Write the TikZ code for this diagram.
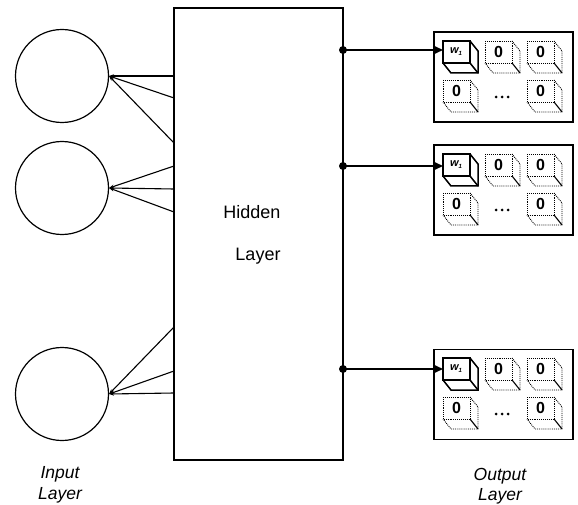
\documentclass[tikz,border=0pt]{standalone}
\usepackage{fontspec}
\setmainfont{Liberation Sans}
\usetikzlibrary{arrows.meta}
\begin{document}
\begin{tikzpicture}[x=1pt,y=-1pt,
  neuron/.style={draw, circle, minimum size=93pt, inner sep=0pt, line width=1.2pt},
  hidbox/.style={draw, line width=1.8pt, minimum width=169pt, minimum height=452pt, inner sep=0pt},
  outbox/.style={draw, line width=1.8pt, minimum width=139pt, minimum height=90pt, inner sep=0pt},
  lab/.style={font=\fontsize{18}{21}\selectfont},
  ilab/.style={font=\fontsize{17.5}{20}\selectfont\itshape},
  conn/.style={line width=1.1pt, -{Stealth[length=5pt,width=3.5pt]}},
  outarrow/.style={line width=1.8pt, -{Triangle[length=9pt,width=8pt]}},
  dotc/.style={circle, fill, inner sep=0pt, minimum size=8pt},
  zlab/.style={font=\fontsize{16}{18}\selectfont\bfseries, inner sep=0pt},
  wcube/.pic={
    \draw[line width=1.5pt] (0,0) rectangle (27,22);
    \draw[line width=1.5pt] (27,0) -- (35,10) -- (35,32) -- (8,32) -- (0,22);
    \draw[line width=1.5pt] (27,22) -- (35,32);
    \node[inner sep=0pt, font=\fontsize{11}{12}\selectfont\bfseries\itshape] at (13,11) {w\raisebox{-2pt}{\fontsize{6}{7}\selectfont 1}};
  },
  zcube/.pic={
    \draw[densely dotted, line width=0.9pt] (0,0) rectangle (27,22);
    \draw[densely dotted, line width=0.9pt] (27,0) -- (35,10) -- (35,32) -- (8,32) -- (0,22);
    \draw[line width=1.1pt] (27,22) -- (35,32);
    \node[zlab] at (13.5,11) {0};
  },
]
\useasboundingbox (0,0) rectangle (578,505);

% input layer
\node[neuron] (c1) at (62,76) {};
\node[neuron] (c2) at (62,188) {};
\node[neuron] (c3) at (62,394) {};

% hidden layer
\node[hidbox] (hid) at (258.5,234) {};
\node[lab] (ht1) at (252,212) {Hidden};
\node[lab] (ht2) at (258,256) {Layer};

% connection points on hidden box
\coordinate (h1a) at (174,76);
\coordinate (h1b) at (174,98);
\coordinate (h1c) at (174,143);
\coordinate (h2a) at (174,166);
\coordinate (h2b) at (174,189);
\coordinate (h2c) at (174,212);
\coordinate (h3a) at (174,327);
\coordinate (h3b) at (174,371);
\coordinate (h3c) at (174,393);

\foreach \p in {h1a,h1b,h1c} \draw[conn] (\p) -- (c1.east);
\foreach \p in {h2a,h2b,h2c} \draw[conn] (\p) -- (c2.east);
\foreach \p in {h3a,h3b,h3c} \draw[conn] (\p) -- (c3.east);

% output layer
\node[outbox] (o1) at (503.5,77) {};
\node[outbox] (o2) at (503.5,190) {};
\node[outbox] (o3) at (503.5,394.5) {};

\foreach \by in {32,145,349}{
  \pic at (443,\by+9) {wcube};
  \pic at (485,\by+9) {zcube};
  \pic at (527,\by+9) {zcube};
  \pic at (443,\by+48) {zcube};
  \pic at (527,\by+48) {zcube};
  \foreach \dx in {-6,0,6} \fill (502+\dx,\by+65) circle (1.5pt);
}

% output connectors
\node[dotc] (d1) at (343,50) {};
\node[dotc] (d2) at (343,166) {};
\node[dotc] (d3) at (343,369) {};
\coordinate (t1) at (443,50);
\coordinate (t2) at (443,166);
\coordinate (t3) at (443,369);
\draw[outarrow] (d1.center) -- (t1);
\draw[outarrow] (d2.center) -- (t2);
\draw[outarrow] (d3.center) -- (t3);

% labels
\node[ilab] (il1) at (60,474) {Input};
\node[ilab] (il2) at (60,495) {Layer};
\node[ilab] (ol1) at (500,476) {Output};
\node[ilab] (ol2) at (500,496) {Layer};
\end{tikzpicture}
\end{document}
